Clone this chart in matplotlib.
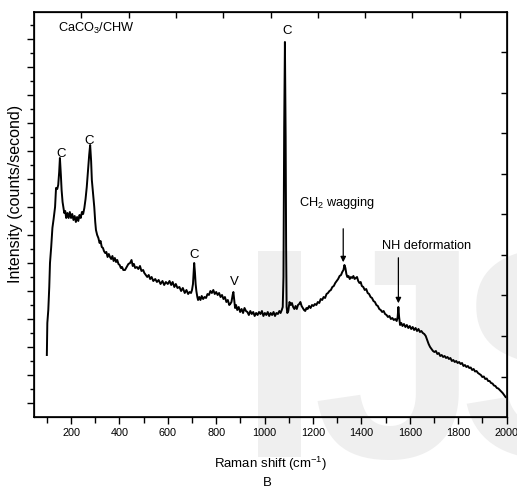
import numpy as np
import matplotlib.pyplot as plt

plt.rcParams['font.family'] = ['Liberation Sans', 'DejaVu Sans']
plt.rcParams['mathtext.fontset'] = 'custom'
plt.rcParams['mathtext.rm'] = 'Liberation Sans'
plt.rcParams['mathtext.it'] = 'Liberation Sans'

# Raman spectrum CaCO3/CHW (arbitrary intensity units)
shift = [100, 102, 106, 110, 113, 118, 123, 128, 134, 138, 143, 147, 151, 154, 158, 161,
         165, 168, 172, 176, 180, 185, 190, 195, 200, 205, 210, 215, 220, 225, 230, 235,
         240, 245, 250, 255, 260, 265, 270, 275, 279, 283, 286, 291, 296, 300, 303, 308,
         313, 318, 322, 327, 332, 336, 341, 346, 351, 356, 361, 366, 371, 376, 381, 386,
         391, 396, 401, 406, 411, 416, 423, 430, 437, 444, 450, 455, 460, 465, 472, 478,
         485, 491, 498, 503, 509, 515, 521, 527, 533, 540, 548, 555, 562, 570, 578, 585,
         592, 600, 607, 614, 620, 627, 633, 640, 648, 655, 662, 670, 677, 684, 690, 696,
         700, 704, 707, 709, 712, 715, 718, 722, 725, 730, 735, 740, 746, 752, 758, 764,
         770, 776, 782, 788, 794, 800, 806, 812, 818, 824, 830, 836, 842, 848, 854, 858,
         863, 868, 871, 874, 878, 882, 887, 893, 899, 905, 911, 917, 923, 929, 935, 941,
         947, 953, 959, 965, 971, 977, 983, 989, 995, 1001, 1007, 1013, 1019, 1025, 1031,
         1037, 1043, 1049, 1055, 1061, 1066, 1071, 1075, 1078, 1081, 1084, 1087, 1089,
         1091, 1094, 1098, 1103, 1108, 1113, 1118, 1123, 1128, 1133, 1138, 1143, 1148,
         1153, 1158, 1163, 1168, 1173, 1178, 1184, 1190, 1196, 1202, 1208, 1214, 1220,
         1226, 1232, 1238, 1244, 1250, 1256, 1262, 1268, 1274, 1280, 1286, 1292, 1298,
         1304, 1310, 1316, 1321, 1326, 1330, 1334, 1338, 1342, 1347, 1352, 1357, 1362,
         1367, 1372, 1377, 1382, 1387, 1392, 1397, 1402, 1408, 1414, 1420, 1426, 1432,
         1438, 1444, 1450, 1456, 1462, 1468, 1474, 1480, 1486, 1492, 1498, 1504, 1510,
         1516, 1522, 1528, 1534, 1540, 1546, 1550, 1553, 1556, 1560, 1565, 1570, 1576,
         1582, 1588, 1594, 1600, 1606, 1612, 1618, 1624, 1630, 1636, 1642, 1648, 1654,
         1660, 1666, 1672, 1678, 1684, 1690, 1696, 1702, 1708, 1714, 1720, 1726, 1732,
         1738, 1744, 1750, 1756, 1762, 1768, 1774, 1780, 1786, 1792, 1798, 1804, 1810,
         1816, 1822, 1828, 1834, 1840, 1846, 1852, 1858, 1864, 1870, 1876, 1882, 1888,
         1894, 1900, 1906, 1912, 1918, 1924, 1930, 1936, 1942, 1948, 1954, 1960, 1966,
         1972, 1978, 1984, 1990, 1996]
counts = [620, 940, 1070, 1300, 1540, 1700, 1890, 1980, 2100, 2290, 2280, 2320, 2450, 2590,
          2420, 2270, 2150, 2100, 2040, 2060, 1990, 2040, 1990, 2050, 1990, 2030, 1970, 2010,
          1950, 2000, 1960, 2020, 1990, 2050, 2030, 2090, 2180, 2300, 2460, 2620, 2720, 2560,
          2370, 2230, 2100, 1950, 1870, 1820, 1790, 1740, 1760, 1700, 1690, 1660, 1640, 1650,
          1600, 1630, 1600, 1580, 1610, 1560, 1590, 1550, 1570, 1530, 1520, 1490, 1500, 1470,
          1470, 1500, 1530, 1540, 1570, 1510, 1530, 1490, 1500, 1480, 1510, 1460, 1470, 1440,
          1420, 1400, 1420, 1380, 1400, 1360, 1380, 1350, 1370, 1330, 1360, 1320, 1350, 1330,
          1360, 1320, 1350, 1300, 1330, 1290, 1300, 1260, 1290, 1240, 1270, 1230, 1250, 1240,
          1270, 1330, 1460, 1540, 1450, 1330, 1260, 1200, 1170, 1200, 1170, 1210, 1180, 1200,
          1190, 1230, 1220, 1260, 1240, 1270, 1230, 1250, 1220, 1240, 1200, 1220, 1180, 1200,
          1150, 1170, 1120, 1130, 1150, 1220, 1250, 1180, 1090, 1120, 1070, 1100, 1050, 1080,
          1040, 1090, 1060, 1050, 1020, 1060, 1030, 1050, 1010, 1040, 1020, 1050, 1030, 1060,
          1010, 1040, 1020, 1050, 1010, 1040, 1020, 1050, 1010, 1040, 1030, 1060, 1040, 1070,
          1100, 1400, 2900, 3750, 2800, 1700, 1100, 1040, 1060, 1150, 1120, 1140, 1100, 1080,
          1110, 1080, 1120, 1130, 1150, 1110, 1090, 1070, 1060, 1090, 1080, 1110, 1090, 1120,
          1110, 1130, 1120, 1150, 1140, 1180, 1170, 1200, 1190, 1230, 1240, 1260, 1270, 1300,
          1310, 1340, 1360, 1380, 1410, 1420, 1450, 1470, 1520, 1490, 1430, 1400, 1410, 1380,
          1400, 1390, 1410, 1380, 1390, 1400, 1360, 1340, 1350, 1310, 1300, 1270, 1280, 1240,
          1230, 1200, 1190, 1160, 1150, 1120, 1110, 1080, 1070, 1050, 1060, 1030, 1020, 1000,
          1010, 980, 990, 970, 980, 960, 1000, 1100, 1000, 920, 940, 910, 930, 900, 920, 890,
          910, 880, 900, 870, 890, 860, 880, 850, 860, 840, 830, 810, 770, 730, 700, 680, 660,
          650, 660, 630, 640, 610, 620, 600, 610, 590, 600, 580, 590, 560, 570, 550, 560, 540,
          550, 530, 540, 510, 520, 500, 510, 490, 495, 470, 480, 455, 460, 440, 430, 420, 400,
          405, 380, 385, 360, 360, 340, 335, 315, 310, 290, 285, 270, 255, 240, 220, 200]

peak_labels = ['C', 'C', 'C', 'V', 'C']
peak_x = [160, 275, 709, 875, 1094]
peak_y = [2600, 2730, 1590, 1320, 3830]

fig = plt.figure(figsize=(5.17, 4.91), dpi=100)

# faint watermark behind the plot
for s, xf in zip(['I', 'J', 'S'], [0.461, 0.604, 0.885]):
    fig.text(xf, 0.069, s, fontsize=215, color='#efefef', family='Liberation Sans',
             weight='bold', va='baseline', ha='left', zorder=-5)

ax = fig.add_axes([0.0658, 0.1507, 0.9149, 0.8249])
ax.patch.set_visible(False)
ax.plot(shift, counts, color='black', lw=1.4)

ax.set_xlim(47, 2002)
ax.set_ylim(0, 4050)
ax.set_xticks(np.arange(200, 2001, 200))
ax.set_xticks(np.arange(100, 2000, 200), minor=True)
ax.set_yticks(np.arange(140, 4000, 280))
ax.set_yticks(np.arange(280, 4000, 280), minor=True)
ax.set_yticklabels([])
ax.tick_params(axis='x', which='major', direction='out', length=5, width=1, labelsize=7.8, pad=3)
ax.tick_params(axis='x', which='minor', direction='out', length=4, width=1)
ax.tick_params(axis='y', which='major', direction='out', length=5, width=1)
ax.tick_params(axis='y', which='minor', direction='out', length=3, width=1)
for sp in ax.spines.values():
    sp.set_linewidth(1.2)

axt = ax.twiny()
axt.set_xlim(0, 10)
axt.set_xticks(range(1, 10))
axt.tick_params(axis='x', direction='in', length=4, width=1, labeltop=False)
axr = ax.twinx()
axr.set_ylim(0, 10)
axr.set_yticks(range(1, 10))
axr.tick_params(axis='y', direction='in', length=4, width=1, labelright=False)

ax.set_xlabel('Raman shift (cm$^{-1}$)', fontsize=9.5, labelpad=12)
ax.set_ylabel('Intensity (counts/second)', fontsize=11.5)
ax.yaxis.set_label_coords(-0.024, 0.55)
fig.text(0.518, 0.0163, 'B', fontsize=9.5, ha='center', va='center')

for lab, px, py in zip(peak_labels, peak_x, peak_y):
    ax.text(px, py, lab, fontsize=9.5, ha='center', va='baseline')
ax.text(146, 3850, 'CaCO$_3$/CHW', fontsize=9.2, va='baseline')
ax.text(1144, 2110, 'CH$_2$ wagging', fontsize=9.2, va='baseline')
ax.text(1487, 1680, 'NH deformation', fontsize=9.2, va='baseline')

ax.annotate('', xy=(1325, 1520), xytext=(1325, 1910),
            arrowprops=dict(arrowstyle='-|>', color='black', lw=0.9, mutation_scale=8))
ax.annotate('', xy=(1553, 1110), xytext=(1553, 1620),
            arrowprops=dict(arrowstyle='-|>', color='black', lw=0.9, mutation_scale=8))

fig.savefig('out.png', dpi=100)
